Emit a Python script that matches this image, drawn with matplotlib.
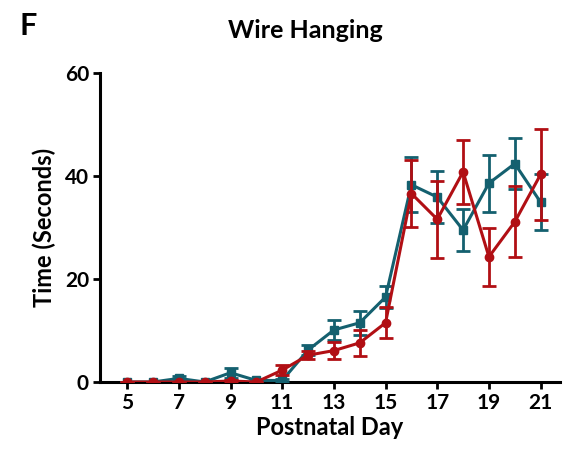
import matplotlib
matplotlib.use("Agg")
import matplotlib.pyplot as plt

days = [5, 6, 7, 8, 9, 10, 11, 12, 13, 14, 15, 16, 17, 18, 19, 20, 21]
teal_mean = [0.0, 0.0, 0.7, 0.0, 1.8, 0.3, 0.3, 6.2, 10.1, 11.5, 16.5, 38.3, 35.9, 29.5, 38.6, 42.4, 34.9]
teal_err = [0.0, 0.0, 0.5, 0.0, 1.0, 0.3, 0.3, 1.0, 2.0, 2.3, 2.1, 5.3, 5.1, 4.1, 5.5, 4.9, 5.4]
red_mean = [0.0, 0.0, 0.0, 0.0, 0.2, 0.0, 2.3, 5.2, 6.1, 7.6, 11.5, 36.6, 31.6, 40.8, 24.3, 31.1, 40.3]
red_err = [0.0, 0.0, 0.0, 0.0, 0.2, 0.0, 1.0, 0.8, 1.6, 2.5, 3.0, 6.5, 7.5, 6.2, 5.6, 6.9, 8.8]
xticks = [5, 7, 9, 11, 13, 15, 17, 19, 21]
yticks = [0, 20, 40, 60]

teal = "#14606f"
red = "#b10f14"
font = ["Lato", "DejaVu Sans"]

fig = plt.figure(figsize=(5.71, 4.51), dpi=100)
ax = fig.add_axes([100 / 571, 69 / 451, 460 / 571, 309 / 451])

ax.errorbar(days, teal_mean, yerr=teal_err, color=teal, marker="s", markersize=6,
            linewidth=2.2, elinewidth=2, capsize=5, capthick=2, zorder=3)
ax.errorbar(days, red_mean, yerr=red_err, color=red, marker="o", markersize=6,
            linewidth=2.2, elinewidth=2, capsize=5, capthick=2, zorder=4)

ax.set_xlim(3.95, 21.75)
ax.set_ylim(0, 60)
ax.set_xticks(xticks)
ax.set_yticks(yticks)
for s in ["top", "right"]:
    ax.spines[s].set_visible(False)
for s in ["left", "bottom"]:
    ax.spines[s].set_linewidth(2.2)
ax.tick_params(width=2, length=5, labelsize=15, pad=3)
for lab in ax.get_xticklabels() + ax.get_yticklabels():
    lab.set_fontfamily(font)
    lab.set_fontweight("bold")

ax.set_xlabel("Postnatal Day", fontsize=17, fontweight="bold", family=font, labelpad=2)
ax.set_ylabel("Time (Seconds)", fontsize=17, fontweight="bold", family=font, labelpad=6)
fig.text(305 / 571, 1 - 30 / 451, "Wire Hanging", ha="center", va="center",
         fontsize=18, fontweight="bold", family=font)
fig.text(20 / 571, 1 - 26 / 451, "F", ha="left", va="center",
         fontsize=22, fontweight="bold", family=font)

fig.savefig("out.png", dpi=100)
